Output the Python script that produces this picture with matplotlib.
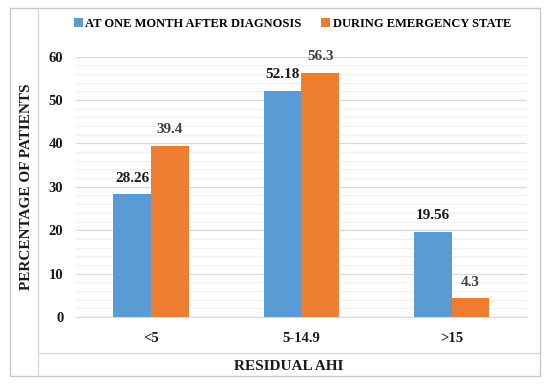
import numpy as np
import matplotlib
matplotlib.use("Agg")
import matplotlib.pyplot as plt
from matplotlib.lines import Line2D
from matplotlib.patches import Rectangle

categories = ["<5", "5-14.9", ">15"]
one_month = [28.26, 52.18, 19.56]
emergency = [39.4, 56.3, 4.3]
series_names = ["AT ONE MONTH AFTER DIAGNOSIS", "DURING EMERGENCY STATE"]

plt.rcParams["font.family"] = ["Liberation Serif", "DejaVu Serif"]
plt.rcParams["font.weight"] = "bold"

blue = "#5B9BD5"
orange = "#ED7D31"

fig = plt.figure(figsize=(5.5, 3.87), dpi=100)
ax = fig.add_axes([0.138, 0.181, 0.82, 0.6725])

x = np.arange(len(categories))
w = 0.25
b1 = ax.bar(x - w / 2, one_month, w, color=blue, zorder=3)
b2 = ax.bar(x + w / 2, emergency, w, color=orange, zorder=3)

for rects, vals, c in [(b1, one_month, "#1a1a1a"), (b2, emergency, "#404040")]:
    for r, v in zip(rects, vals):
        ax.annotate("%g" % v, (r.get_x() + r.get_width() / 2, v),
                    xytext=(0, 7), textcoords="offset points",
                    ha="center", va="bottom", fontsize=11,
                    fontweight="bold", color=c)

ax.set_xlim(-0.5, 2.5)
ax.set_ylim(0, 60)
ax.set_yticks(np.arange(0, 61, 10))
ax.set_yticks(np.arange(0, 61, 2), minor=True)
ax.set_xticks(x)
ax.set_xticklabels(categories)
ax.tick_params(axis="x", length=0, pad=11, labelsize=10.5, colors="#1a1a1a")
ax.tick_params(axis="y", length=0, pad=9, labelsize=10.5, colors="#1a1a1a")
ax.tick_params(axis="y", which="minor", length=0)
ax.grid(axis="y", which="major", color="#d9d9d9", lw=0.9, zorder=0)
ax.grid(axis="y", which="minor", color="#f0f0f0", lw=0.8, zorder=0)
for s in ["top", "right", "left"]:
    ax.spines[s].set_visible(False)
ax.spines["bottom"].set_color("#d9d9d9")

ax.legend([b1, b2], series_names, loc="lower center",
          bbox_to_anchor=(0.48, 1.06), ncol=2, frameon=False,
          fontsize=9, handlelength=0.7, handleheight=0.7,
          handletextpad=0.2, columnspacing=1.6)

# outer frame and label strips
fig.add_artist(Rectangle((0.018, 0.028), 0.964, 0.951, transform=fig.transFigure,
                         fill=False, edgecolor="#c8c8c8", lw=1.0))
fig.add_artist(Line2D([0.069, 0.069], [0.028, 0.979], transform=fig.transFigure,
                      color="#d9d9d9", lw=1.0))
fig.add_artist(Line2D([0.069, 0.982], [0.088, 0.088], transform=fig.transFigure,
                      color="#d9d9d9", lw=1.0))

fig.text(0.048, 0.517, "PERCENTAGE OF PATIENTS", rotation=90, ha="center",
         va="center", fontsize=11, fontweight="bold", color="#1a1a1a")
fig.text(0.524, 0.052, "RESIDUAL AHI", ha="center", va="center",
         fontsize=11, fontweight="bold", color="#1a1a1a")

fig.savefig("out.png", dpi=100, facecolor="white")
